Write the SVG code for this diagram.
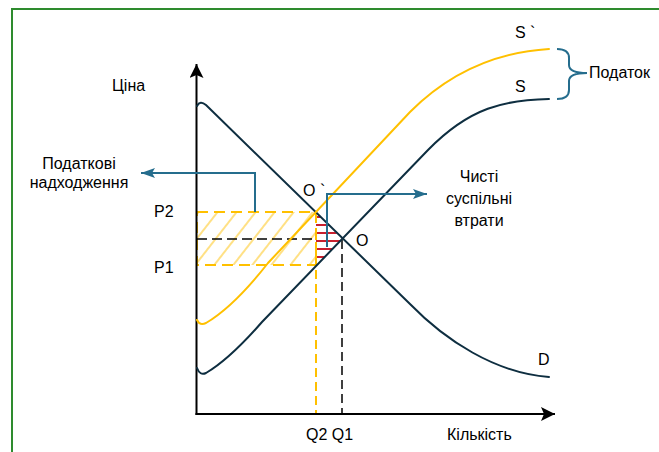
<svg xmlns="http://www.w3.org/2000/svg" width="659" height="452" viewBox="0 0 659 452">
<style>
text{font-family:"Liberation Sans",Arial,sans-serif;font-size:16px;fill:#000}
.curve{fill:none;stroke:#0E2E40;stroke-width:2;stroke-linecap:round}
.ycurve{fill:none;stroke:#FFC000;stroke-width:2;stroke-linecap:round}
.axis{stroke:#000;stroke-width:2;fill:none}
.conn{fill:none;stroke:#256D8D;stroke-width:2}
</style>
<defs>
<pattern id="hatchY" patternUnits="userSpaceOnUse" width="15" height="15" patternTransform="rotate(38)">
<line x1="2" y1="0" x2="2" y2="15" stroke="#FFD966" stroke-width="1.6"/>
</pattern>
<clipPath id="triClip"><polygon points="316,212 342,239 316,266"/></clipPath>
<marker id="arrT" markerUnits="userSpaceOnUse" markerWidth="16" markerHeight="12" refX="14" refY="5" orient="auto">
<path d="M0,0 L14,5 L0,10 L3,5 Z" fill="#256D8D"/>
</marker>
<marker id="arrK" markerUnits="userSpaceOnUse" markerWidth="16" markerHeight="16" refX="14" refY="7" orient="auto">
<path d="M0,0 L14,7 L0,14 L3,7 Z" fill="#000"/>
</marker>
</defs>
<rect x="12" y="9" width="700" height="500" fill="#fff" stroke="#2E8B2E" stroke-width="2"/>

<g id="tax-area">
<rect x="197" y="212" width="119" height="53" fill="url(#hatchY)" stroke="#FFC000" stroke-width="2" stroke-dasharray="11,6"/>
</g>
<g id="deadweight-loss" clip-path="url(#triClip)" stroke="#C8202E" stroke-width="2">
<line x1="310" y1="217" x2="345" y2="217"/>
<line x1="310" y1="225" x2="345" y2="225"/>
<line x1="310" y1="233" x2="345" y2="233"/>
<line x1="310" y1="241" x2="345" y2="241"/>
<line x1="310" y1="249" x2="345" y2="249"/>
<line x1="310" y1="257" x2="345" y2="257"/>
</g>
<g id="guides">
<line x1="197" y1="239" x2="316" y2="239" stroke="#000" stroke-width="1.5" stroke-dasharray="10,5"/>
<line x1="316" y1="214" x2="316" y2="413" stroke="#FFC000" stroke-width="2" stroke-dasharray="9,5"/>
<line x1="342" y1="240" x2="342" y2="413" stroke="#000" stroke-width="1.5" stroke-dasharray="9,5"/>
</g>

<g id="axes">
<line class="axis" x1="196.5" y1="415" x2="196.5" y2="64" marker-end="url(#arrK)"/>
<line class="axis" x1="195.5" y1="414" x2="555" y2="414" marker-end="url(#arrK)"/>
</g>

<g id="curve-D"><path class="curve" d="M197,106 Q200,100 206,105 L410,304 C445,340 495,373 549,377"/></g>
<g id="curve-S"><path class="curve" d="M197,368 Q200,376 206,373 C228,360 248,338 262,322 L428,150 C470,107 505,100 549,99"/></g>
<g id="curve-S2"><path class="ycurve" d="M197,320 Q200,326 206,323 C228,310 250,286 268,263 L410,112 C452,70 500,52 549,49"/></g>

<g id="connectors">
<path class="conn" d="M255,212 L255,173 L141,173" marker-end="url(#arrT)"/>
<path class="conn" d="M327,247 L327,194 L427,194" marker-end="url(#arrT)"/>
<path class="conn" d="M557,49 Q569,49 569,58 L569,65 Q569,73 587,73 Q569,73 569,81 L569,90 Q569,99 557,99"/>
</g>

<g id="label-price"><text x="112" y="91">Ціна</text></g>
<g id="label-revenue"><text x="79" y="169" text-anchor="middle">Податкові</text><text x="79" y="188" text-anchor="middle">надходження</text></g>
<g id="label-P2"><text x="154" y="217">P2</text></g>
<g id="label-P1"><text x="154" y="273">P1</text></g>
<g id="label-O2"><text x="303" y="196">O `</text></g>
<g id="label-O"><text x="356" y="246">O</text></g>
<g id="label-loss"><text x="479" y="182" text-anchor="middle">Чисті</text><text x="479" y="204" text-anchor="middle">суспільні</text><text x="479" y="226" text-anchor="middle">втрати</text></g>
<g id="label-S2"><text x="515" y="38">S `</text></g>
<g id="label-S"><text x="515" y="92">S</text></g>
<g id="label-tax"><text x="589" y="78">Податок</text></g>
<g id="label-D"><text x="538" y="365">D</text></g>
<g id="label-Q"><text x="306" y="440">Q2 Q1</text></g>
<g id="label-quantity"><text x="447" y="440">Кількість</text></g>
</svg>
